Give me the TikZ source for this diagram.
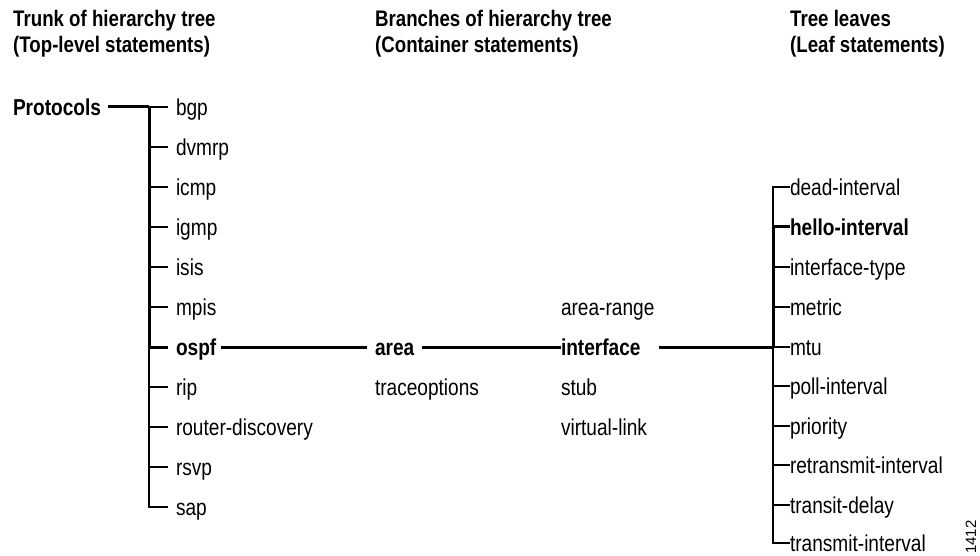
\documentclass[tikz,border=0pt]{standalone}
\usepackage{fontspec}
\setmainfont[FakeStretch=0.83]{Liberation Sans}
\newfontfamily\plainfont{Liberation Sans}
\begin{document}
\begin{tikzpicture}[x=1pt,y=-1pt,
  lbl/.style={anchor=west,inner sep=0pt,outer sep=0pt,text height=16.3pt,text depth=0pt,font=\fontsize{23}{27}\selectfont},
  blbl/.style={lbl,font=\fontsize{23}{27}\selectfont\bfseries},
  hdr/.style={anchor=north west,inner sep=0pt,align=left,font=\fontsize{22.5}{25.5}\selectfont\bfseries},
  thin/.style={line width=1.6pt},
  thk/.style={line width=3pt}]
\useasboundingbox (0,0) rectangle (980,556);
% headers
\node[hdr] (h1) at (13,10) {Trunk of hierarchy tree\\(Top-level statements)};
\node[hdr] (h2) at (375,10) {Branches of hierarchy tree\\(Container statements)};
\node[hdr] (h3) at (790,10) {Tree leaves\\(Leaf statements)};
% trunk
\node[blbl] (proto) at (13,107) {Protocols};
\coordinate (ttop) at (149,107);
\node[lbl]  (t0) at (176,107) {bgp};
\node[lbl]  (t1) at (176,147) {dvmrp};
\node[lbl]  (t2) at (176,187) {icmp};
\node[lbl]  (t3) at (176,227) {igmp};
\node[lbl]  (t4) at (176,267) {isis};
\node[lbl]  (t5) at (176,307) {mpis};
\node[blbl] (t6) at (176,347) {ospf};
\node[lbl]  (t7) at (176,387) {rip};
\node[lbl]  (t8) at (176,427) {router-discovery};
\node[lbl]  (t9) at (176,467) {rsvp};
\node[lbl]  (t10) at (176,507) {sap};
\coordinate (tospf) at (149,347);
\coordinate (tbot) at (149,507);
\draw[thk] ([xshift=7pt]proto.east) -- (ttop);
\draw[thk] (ttop) -- (tospf);
\draw[thin] (tospf) -- (tbot) -- ([xshift=-8pt]t10.west);
\foreach \i in {0,1,2,3,4,5,7,8,9}{
  \draw[thin] (ttop|-t\i.west) -- ([xshift=-8pt]t\i.west);
}
\draw[thk] (tospf) -- ([xshift=-8pt]t6.west);
% branches
\node[blbl] (area) at (375,347) {area};
\node[lbl]  (trace) at (375,387) {traceoptions};
\node[lbl]  (arange) at (561,307) {area-range};
\node[blbl] (iface) at (561,347) {interface};
\node[lbl]  (stub) at (561,387) {stub};
\node[lbl]  (vlink) at (561,427) {virtual-link};
\draw[thk] ([xshift=5pt]t6.east) -- ([xshift=-8pt]area.west);
\draw[thk] ([xshift=8pt]area.east) -- (iface.west);
% leaves
\coordinate (lx) at (773,0);
\node[lbl]  (l0) at (790,187) {dead-interval};
\node[blbl] (l1) at (790,227) {hello-interval};
\node[lbl]  (l2) at (790,267) {interface-type};
\node[lbl]  (l3) at (790,307) {metric};
\node[lbl]  (l4) at (790,347) {mtu};
\node[lbl]  (l5) at (790,386) {poll-interval};
\node[lbl]  (l6) at (790,426) {priority};
\node[lbl]  (l7) at (790,465) {retransmit-interval};
\node[lbl]  (l8) at (790,505) {transit-delay};
\node[lbl]  (l9) at (790,543) {transmit-interval};
\draw[thin] (l0.west) -- (lx|-l0.west) -- (lx|-l1.west);
\draw[thk] (lx|-l1.west) -- (lx|-l4.west);
\draw[thk] (lx|-l1.west) -- (l1.west);
\draw[thin] (lx|-l4.west) -- (lx|-l9.west) -- (l9.west);
\foreach \i in {2,3,4,5,6,7,8}{
  \draw[thin] (lx|-l\i.west) -- (l\i.west);
}
\draw[thk] ([xshift=18pt]iface.east) -- ([xshift=0.8pt]lx|-l4.west);
% figure number
\node[rotate=90,anchor=center,inner sep=0pt,font=\plainfont\fontsize{15}{17}\selectfont] (fig) at (971,537) {1412};
\end{tikzpicture}
\end{document}
